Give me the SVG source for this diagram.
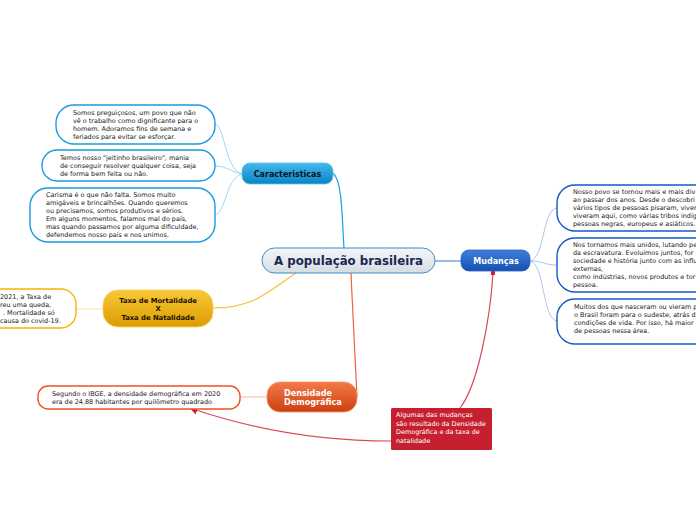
<svg xmlns="http://www.w3.org/2000/svg" width="696" height="520" viewBox="0 0 696 520">
<defs>
<linearGradient id="gCentral" x1="0" y1="0" x2="0" y2="1"><stop offset="0" stop-color="#f4f6f8"/><stop offset="1" stop-color="#d6dde3"/></linearGradient>
<linearGradient id="gCar" x1="0" y1="0" x2="0" y2="1"><stop offset="0" stop-color="#43b8ec"/><stop offset="1" stop-color="#0b84c4"/></linearGradient>
<linearGradient id="gMud" x1="0" y1="0" x2="0" y2="1"><stop offset="0" stop-color="#4080dc"/><stop offset="1" stop-color="#1450b0"/></linearGradient>
<linearGradient id="gTaxa" x1="0" y1="0" x2="0" y2="1"><stop offset="0" stop-color="#f8c838"/><stop offset="1" stop-color="#dc9c00"/></linearGradient>
<linearGradient id="gDens" x1="0" y1="0" x2="0" y2="1"><stop offset="0" stop-color="#f47a48"/><stop offset="1" stop-color="#cc4010"/></linearGradient>
<marker id="arrow" viewBox="0 0 10 10" refX="9" refY="5" markerWidth="7" markerHeight="7" orient="auto"><path d="M0,0 L10,5 L0,10 z" fill="#c8203a"/></marker>
<marker id="dot" viewBox="0 0 10 10" refX="5" refY="5" markerWidth="4" markerHeight="4"><circle cx="5" cy="5" r="5" fill="#c8203a"/></marker>
</defs>
<style>
text{font-family:"DejaVu Sans",Verdana,sans-serif;}
.sub{font-size:6.45px;fill:#1a1a1a;}
.subbox{fill:#fff;stroke-width:1.4;}
.lbl{font-weight:bold;font-size:8px;}
.taxa{font-weight:bold;font-size:6.8px;}
.dens{font-weight:bold;font-size:8.1px;}
.c{fill:none;}
</style>
<g id="connectors">
<path class="c" d="M344,249 C342,215 342,180 333,173" stroke="#1aa0e0" stroke-width="1.2"/>
<path class="c" d="M242,174 C225,170 225,126 215,124" stroke="#88ccf0" stroke-width="0.8"/>
<path class="c" d="M242,174 C232,172 226,166 215,166" stroke="#88ccf0" stroke-width="0.8"/>
<path class="c" d="M242,174 C226,178 226,212 215,215" stroke="#88ccf0" stroke-width="0.8"/>
<path class="c" d="M435,261 L461,261" stroke="#3a74c4" stroke-width="1"/>
<path class="c" d="M530,261 C545,258 542,210 557,208" stroke="#98b4ec" stroke-width="0.8"/>
<path class="c" d="M530,261 C542,261 545,265 557,265" stroke="#98b4ec" stroke-width="0.8"/>
<path class="c" d="M530,261 C545,264 542,319 557,321" stroke="#98b4ec" stroke-width="0.8"/>
<path class="c" d="M296,273 C270,290 255,308 213,308" stroke="#f8c030" stroke-width="1.2"/>
<path class="c" d="M103,309 L76,309" stroke="#fbe0a0" stroke-width="1"/>
<path class="c" d="M351,273 C353,320 356,370 357,397" stroke="#f06040" stroke-width="1.2"/>
<path class="c" d="M267,397 L240,397" stroke="#f8b8a0" stroke-width="1"/>
<path class="c" d="M460,408 C478,385 490,320 493,273" stroke="#d84a5a" stroke-width="1.2" marker-end="url(#dot)"/>
<path class="c" d="M391,441 C330,441 260,432 190,408" stroke="#d84a5a" stroke-width="1.2" marker-end="url(#arrow)"/>
</g>
<g id="central">
<rect x="262" y="248" width="173" height="25" rx="12.5" fill="url(#gCentral)" stroke="#3a8ad0" stroke-width="1"/>
<text x="348.5" y="265" text-anchor="middle" font-size="11.8" font-weight="bold" fill="#1a2850">A população brasileira</text>
</g>
<g id="caracteristicas">
<rect x="242" y="163" width="91" height="21" rx="8" fill="url(#gCar)" stroke="#5cc4f0" stroke-width="0.8"/>
<text x="287.5" y="177" text-anchor="middle" class="lbl" fill="#0a1420">Caracteristicas</text>
</g>
<g id="car1">
<rect x="56" y="105" width="159" height="39" rx="18" class="subbox" stroke="#1a9ae0"/>
<text class="sub"><tspan x="73" y="115">Somos preguiçosos, um povo que não</tspan><tspan x="73" y="123">vê o trabalho como dignificante para o</tspan><tspan x="73" y="131">homem. Adoramos fins de semana e</tspan><tspan x="73" y="139">feriados para evitar se esforçar.</tspan></text>
</g>
<g id="car2">
<rect x="42" y="150" width="173" height="31" rx="15" class="subbox" stroke="#1a9ae0"/>
<text class="sub"><tspan x="60" y="160">Temos nosso "jeitinho brasileiro", mania</tspan><tspan x="60" y="168">de conseguir resolver qualquer coisa, seja</tspan><tspan x="60" y="176">de forma bem feita ou não.</tspan></text>
</g>
<g id="car3">
<rect x="30" y="188" width="185" height="54" rx="18" class="subbox" stroke="#1a9ae0"/>
<text class="sub"><tspan x="46" y="197">Carisma é o que não falta. Somos muito</tspan><tspan x="46" y="205">amigáveis e brincalhões. Quando queremos</tspan><tspan x="46" y="213">ou precisamos, somos produtivos e sérios.</tspan><tspan x="46" y="221">Em alguns momentos, falamos mal do país,</tspan><tspan x="46" y="229">mas quando passamos por alguma dificuldade,</tspan><tspan x="46" y="237">defendemos nosso país e nos unimos.</tspan></text>
</g>
<g id="mudancas">
<rect x="461" y="250" width="69" height="21" rx="8" fill="url(#gMud)" stroke="#2a62c0" stroke-width="0.8"/>
<text x="496" y="264" text-anchor="middle" class="lbl" fill="#fff">Mudanças</text>
</g>
<g id="mud1">
<rect x="557" y="185" width="160" height="46" rx="18" class="subbox" stroke="#1458cc"/>
<text class="sub"><tspan x="573" y="194">Nosso povo se tornou mais e mais div</tspan><tspan x="573" y="202">ao passar dos anos. Desde o descobri</tspan><tspan x="573" y="210">vários tipos de pessoas pisaram, viver</tspan><tspan x="573" y="218">viveram aqui, como várias tribos indíg</tspan><tspan x="573" y="226">pessoas negras, europeus e asiáticos.</tspan></text>
</g>
<g id="mud2">
<rect x="557" y="238" width="160" height="54" rx="18" class="subbox" stroke="#1458cc"/>
<text class="sub"><tspan x="573" y="247">Nos tornamos mais unidos, lutando pe</tspan><tspan x="573" y="255">da escravatura. Evoluímos juntos, for</tspan><tspan x="573" y="263">sociedade e história junto com as influ</tspan><tspan x="573" y="271">externas,</tspan><tspan x="573" y="279">como indústrias, novos produtos e tor</tspan><tspan x="573" y="287">pessoa.</tspan></text>
</g>
<g id="mud3">
<rect x="557" y="299" width="160" height="45" rx="18" class="subbox" stroke="#1458cc"/>
<text class="sub"><tspan x="574" y="309">Muitos dos que nasceram ou vieram p</tspan><tspan x="574" y="317">o Brasil foram para o sudeste, atrás d</tspan><tspan x="574" y="325">condições de vida. Por isso, há maior</tspan><tspan x="574" y="333">de pessoas nessa área.</tspan></text>
</g>
<g id="taxa">
<rect x="103" y="290" width="110" height="37" rx="15" fill="url(#gTaxa)" stroke="#f8d060" stroke-width="0.8"/>
<text class="taxa" text-anchor="middle" fill="#1a1000"><tspan x="158" y="303">Taxa de Mortalidade</tspan><tspan x="158" y="311">X</tspan><tspan x="158" y="320">Taxa de Natalidade</tspan></text>
</g>
<g id="taxa1">
<rect x="-20" y="289" width="96" height="39" rx="15" class="subbox" stroke="#f4b400"/>
<text class="sub"><tspan x="0" y="299">2021, a Taxa de</tspan><tspan x="0" y="307">reu uma queda,</tspan><tspan x="3" y="315">. Mortalidade só</tspan><tspan x="0" y="323">causa do covid-19.</tspan></text>
</g>
<g id="densidade">
<rect x="267" y="382" width="90" height="30" rx="13" fill="url(#gDens)" stroke="#f89070" stroke-width="0.8"/>
<text class="dens" fill="#fff"><tspan x="284" y="396">Densidade</tspan><tspan x="284" y="405">Demográfica</tspan></text>
</g>
<g id="dens1">
<rect x="38" y="386" width="202" height="23" rx="10" class="subbox" stroke="#f05020"/>
<text class="sub"><tspan x="52" y="396">Segundo o IBGE, a densidade demográfica em 2020</tspan><tspan x="52" y="404">era de 24,88 habitantes por quilômetro quadrado</tspan></text>
</g>
<g id="callout">
<rect x="391" y="408" width="101" height="42" rx="1.5" fill="#c61f30"/>
<text class="sub" style="fill:#fff"><tspan x="396" y="417">Algumas das mudanças</tspan><tspan x="396" y="426">são resultado da Densidade</tspan><tspan x="396" y="434">Demográfica e da taxa de</tspan><tspan x="396" y="443">natalidade</tspan></text>
</g>
</svg>
